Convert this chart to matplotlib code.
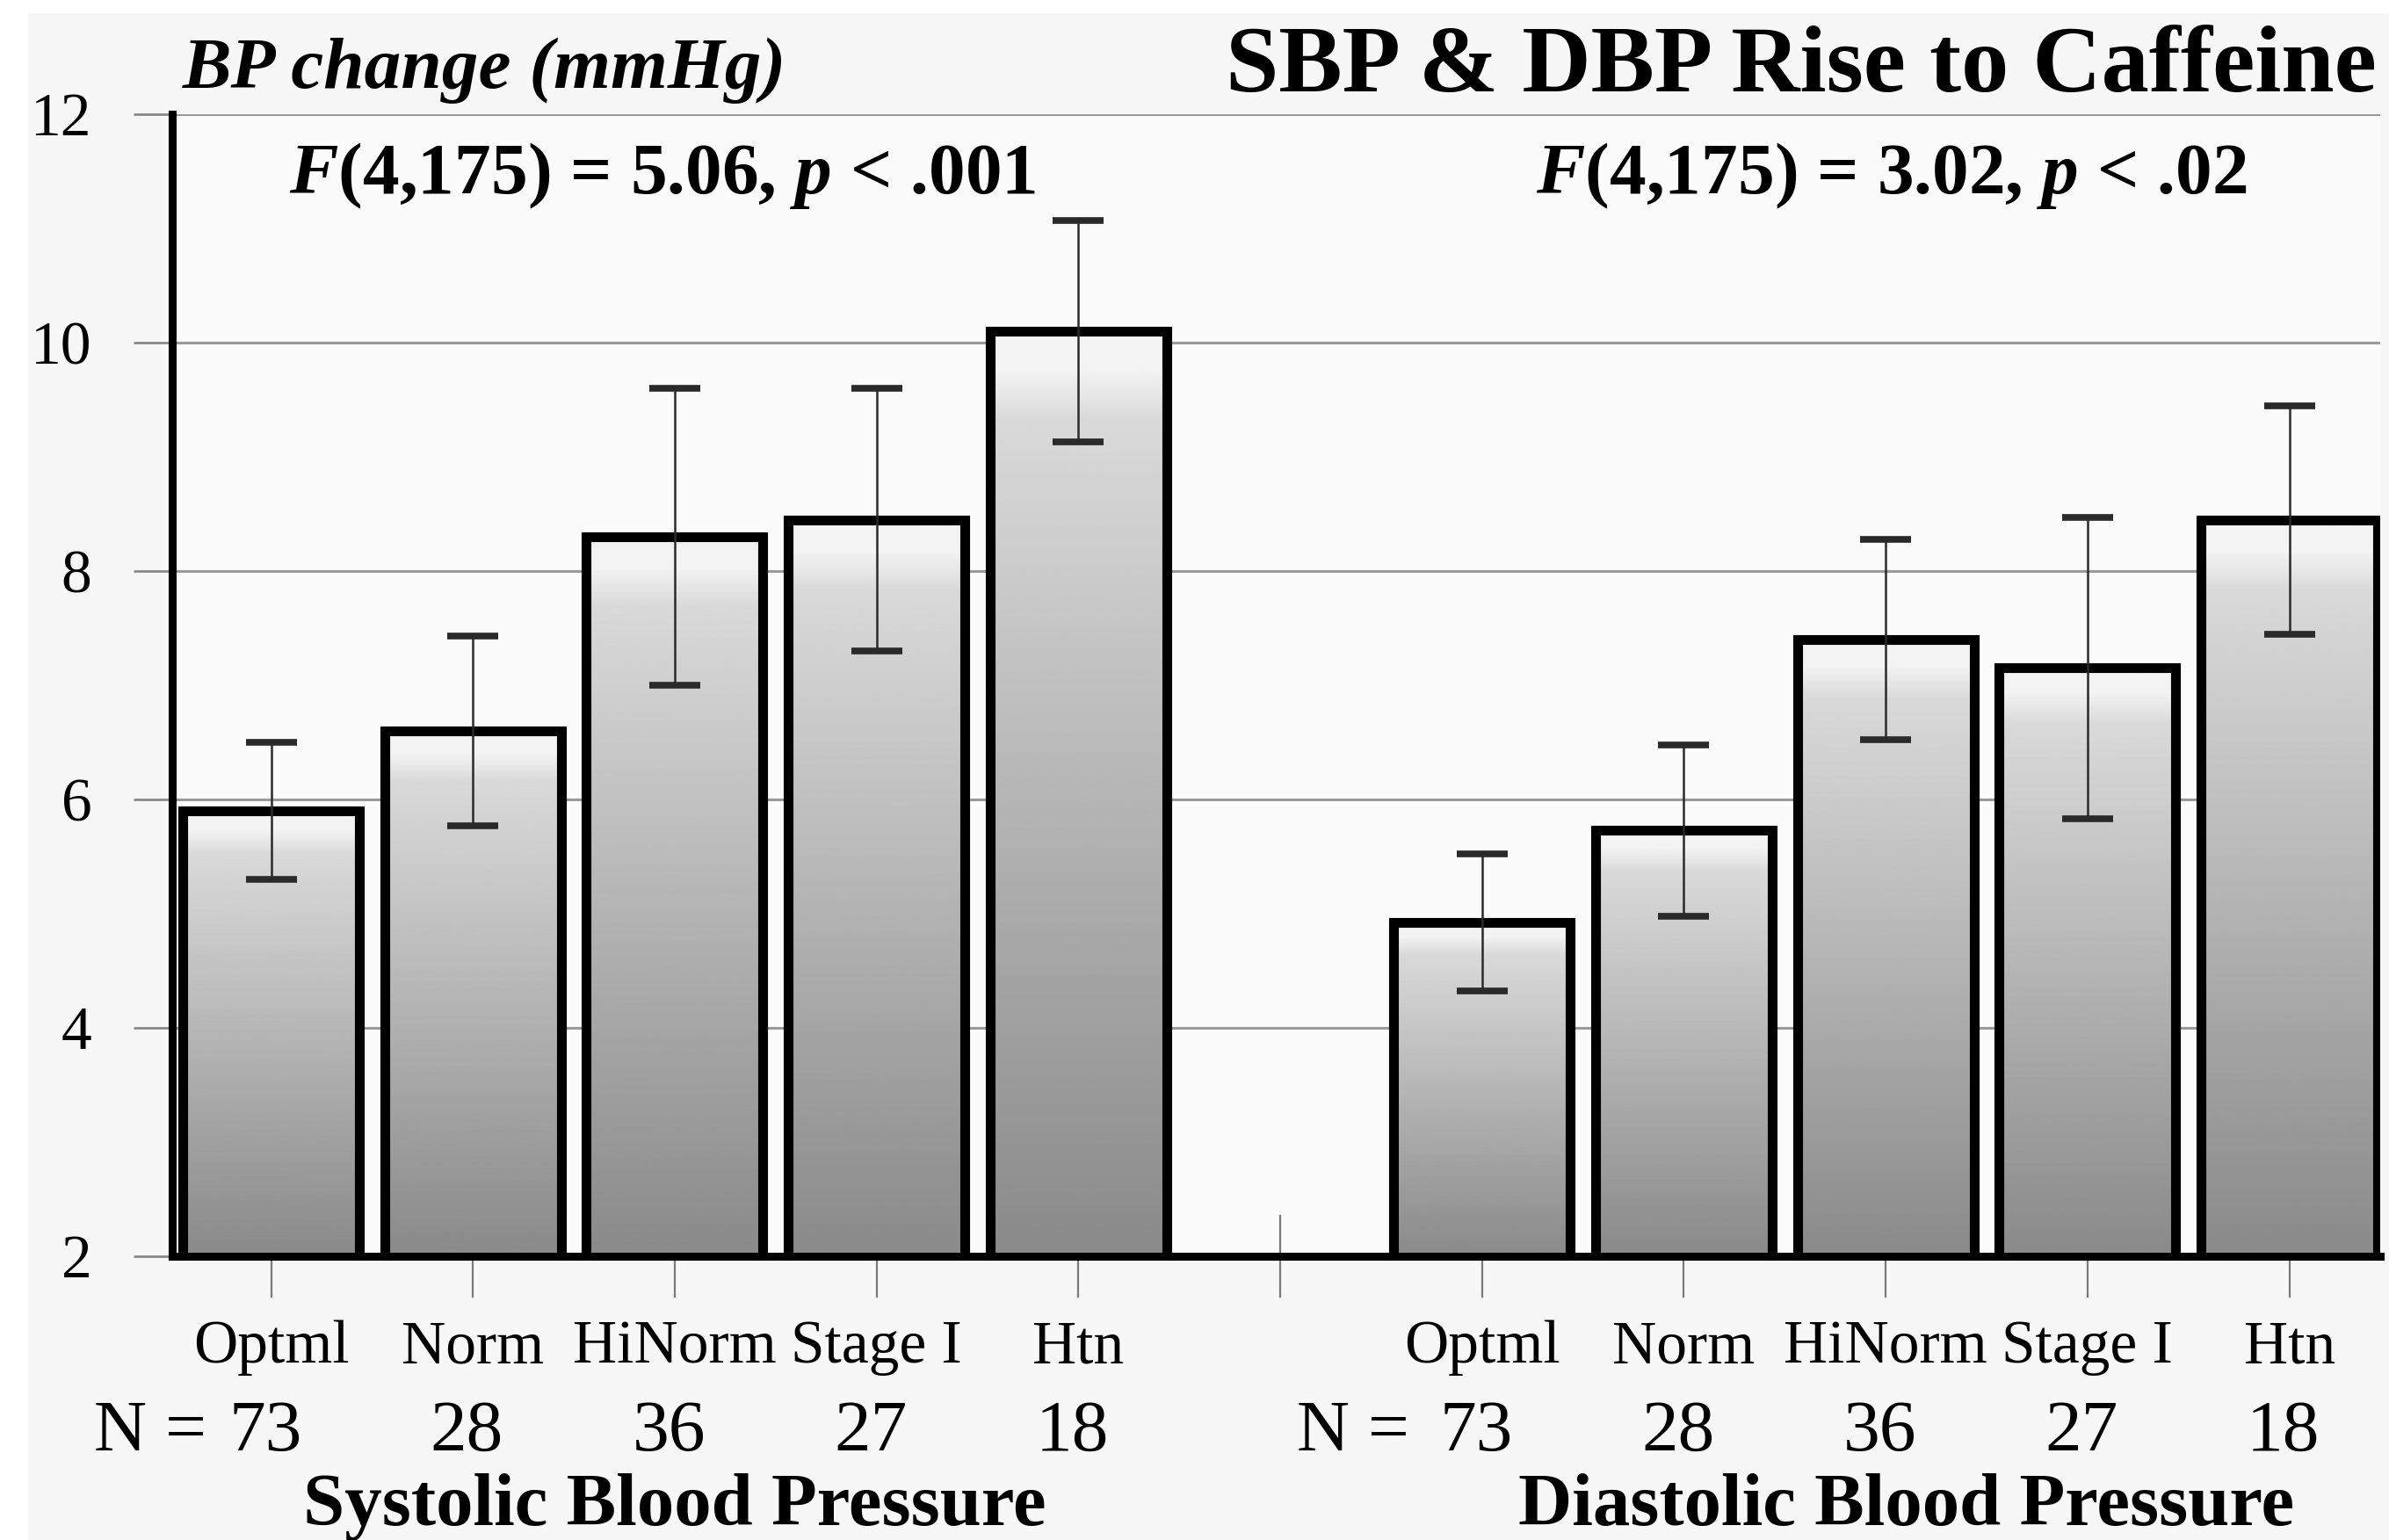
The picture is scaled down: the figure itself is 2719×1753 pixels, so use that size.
import numpy as np
import matplotlib
matplotlib.use("Agg")
import matplotlib.pyplot as plt
from matplotlib.transforms import blended_transform_factory
from matplotlib.patches import Rectangle

plt.rcParams['font.family'] = ['Liberation Serif', 'DejaVu Serif']
plt.rcParams['mathtext.fontset'] = 'custom'
plt.rcParams['mathtext.it'] = 'Liberation Serif:italic:bold'
plt.rcParams['mathtext.rm'] = 'Liberation Serif:bold'

# group means (mmHg change) with error bar half-widths
categories = ['Optml', 'Norm', 'HiNorm', 'Stage I', 'Htn']
n_counts = [73, 28, 36, 27, 18]
sbp_mean = [5.9, 6.6, 8.3, 8.45, 10.1]
sbp_err = [0.6, 0.83, 1.3, 1.15, 0.97]
dbp_mean = [4.92, 5.73, 7.4, 7.15, 8.45]
dbp_err = [0.6, 0.75, 0.88, 1.32, 1.0]
sbp_pos = [0, 1, 2, 3, 4]
dbp_pos = [6, 7, 8, 9, 10]
gap_pos = 5
y_ticks = [2, 4, 6, 8, 10, 12]

fig = plt.figure(figsize=(27.19, 17.53), dpi=100, facecolor='#f7f7f7')
# thin white margin strips along the top and left
fig.patches.append(Rectangle((0, 1 - 15 / 1753), 1, 15 / 1753, transform=fig.transFigure,
                             facecolor='white', edgecolor='none', zorder=0))
fig.patches.append(Rectangle((0, 0), 32 / 2719, 1, transform=fig.transFigure,
                             facecolor='white', edgecolor='none', zorder=0))

ax = fig.add_axes([0.0721, 0.1843, 0.9242, 0.7415])
ax.set_facecolor('#fbfbfb')
ax.set_axisbelow(True)

width = 0.875
ymin, ymax = 2, 12

# vertical shading: pale cap on top, fading to mid grey at the base
t = np.linspace(0, 1, 400)
shade = np.where(t < 0.07, 0.95, 0.86 - (t - 0.07) / 0.93 * 0.32)
shade = np.convolve(np.pad(shade, 10, mode='edge'), np.ones(21) / 21, mode='valid')
grad = shade[:, None]

xs = sbp_pos + dbp_pos
means = sbp_mean + dbp_mean
errs = sbp_err + dbp_err

for x, m in zip(xs, means):
    ax.imshow(grad, cmap='gray', vmin=0, vmax=1, aspect='auto', interpolation='bilinear',
              extent=[x - width / 2, x + width / 2, ymin, m], zorder=2)

ax.bar(xs, means, width=width, facecolor='none', edgecolor='black', linewidth=8,
       joinstyle='miter', zorder=3)
ax.errorbar(xs, means, yerr=errs, fmt='none', ecolor='#2a2a2a', elinewidth=1.8,
            capsize=21, capthick=5.5, zorder=4)

ax.set_xlim(-0.49, 10.45)
ax.set_ylim(ymin, ymax)

ax.set_yticks(y_ticks)
ax.set_yticklabels([str(v) for v in y_ticks], fontsize=50)
ax.tick_params(axis='y', length=32, width=2, color='#8a8a8a', pad=34)
ax.grid(axis='y', color='#9a9a9a', linewidth=2.2)

ax.set_xticks(sbp_pos + [gap_pos] + dbp_pos)
ax.set_xticklabels([])
ax.tick_params(axis='x', direction='inout', length=68, width=1.6, color='#7a7a7a')

for side in ['top', 'right']:
    ax.spines[side].set_visible(False)
for side in ['left', 'bottom']:
    ax.spines[side].set_linewidth(6.5)
    ax.spines[side].set_color('black')
    ax.spines[side].set_zorder(5)

# labels under the axis: x in data units, y in figure units
tr = blended_transform_factory(ax.transData, fig.transFigure)
for pos in (sbp_pos, dbp_pos):
    for x, cat, n in zip(pos, categories, n_counts):
        fig.text(x, 0.1152, cat, transform=tr, ha='center', va='baseline', fontsize=50)
        fig.text(x - 0.03, 0.0582, str(n), transform=tr, ha='center', va='baseline', fontsize=60)
fig.text(sbp_pos[0] - 0.32, 0.0582, 'N =', transform=tr, ha='right', va='baseline', fontsize=60)
fig.text(dbp_pos[0] - 0.36, 0.0582, 'N =', transform=tr, ha='right', va='baseline', fontsize=60)
fig.text(2.0, 0.0097, 'Systolic Blood Pressure', transform=tr, ha='center', va='baseline',
         fontsize=61, fontweight='bold')
fig.text(8.1, 0.0097, 'Diastolic Blood Pressure', transform=tr, ha='center', va='baseline',
         fontsize=61, fontweight='bold')

fig.text(0.0765, 0.943, 'BP change (mmHg)', ha='left', va='baseline', fontsize=60,
         fontweight='bold', fontstyle='italic')
fig.text(0.9948, 0.9407, 'SBP & DBP Rise to Caffeine', ha='right', va='baseline',
         fontsize=78, fontweight='bold')
fig.text(0.121, 0.8745, r'$F$(4,175) = 5.06, $p$ < .001', ha='left', va='baseline',
         fontsize=60, fontweight='bold')
fig.text(0.643, 0.8745, r'$F$(4,175) = 3.02, $p$ < .02', ha='left', va='baseline',
         fontsize=60, fontweight='bold')

fig.savefig('out.png', dpi=100, facecolor=fig.get_facecolor())
